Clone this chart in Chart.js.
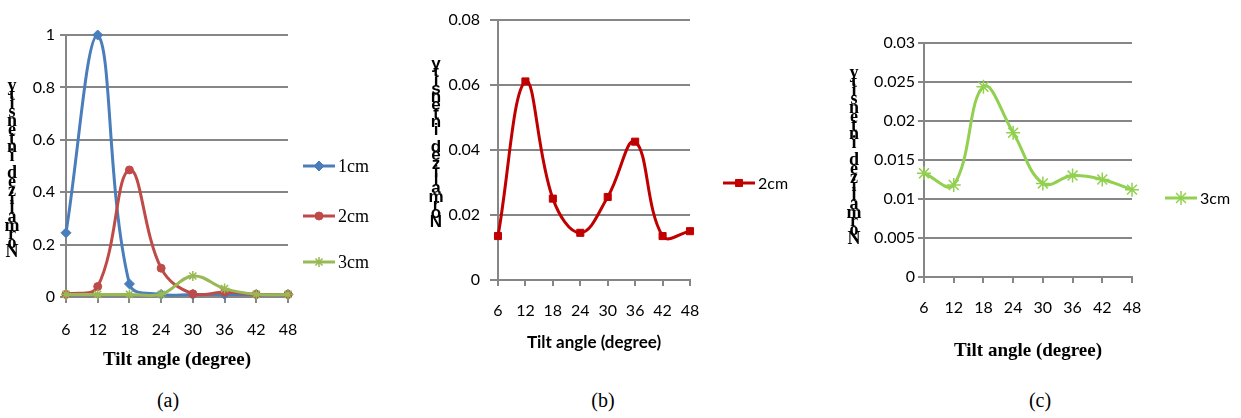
<!DOCTYPE html>
<html>
<head>
<meta charset="utf-8">
<script src="https://cdn.jsdelivr.net/npm/chart.js@4.4.1/dist/chart.umd.min.js"></script>
<style>
  body { margin: 0; background: #fff; width: 1241px; height: 418px; position: relative; overflow: hidden; }
  .panel { position: absolute; top: 0; height: 380px; }
  .cap { position: absolute; top: 389px; font: 20px "Liberation Serif", serif; transform: translateX(-50%); color: #000; }
</style>
</head>
<body>
<div class="panel" style="left:0;width:420px"><canvas id="ca"></canvas></div>
<div class="panel" style="left:420px;width:400px"><canvas id="cb"></canvas></div>
<div class="panel" style="left:830px;width:411px"><canvas id="cc"></canvas></div>
<div class="cap" style="left:168px">(a)</div>
<div class="cap" style="left:603px">(b)</div>
<div class="cap" style="left:1040px">(c)</div>
<script>
// tilt angles (degree)
const angles = ["6", "12", "18", "24", "30", "36", "42", "48"];

// (a) all three distances
const a1cm = [0.245, 1.0, 0.05, 0.01, 0.01, 0.01, 0.01, 0.01];
const a2cm = [0.01, 0.04, 0.485, 0.11, 0.012, 0.018, 0.01, 0.01];
const a3cm = [0.01, 0.01, 0.01, 0.01, 0.08, 0.032, 0.01, 0.01];

// (b) 2cm alone
const b2cm = [0.0135, 0.061, 0.025, 0.0145, 0.0255, 0.0425, 0.0135, 0.015];

// (c) 3cm alone
const c3cm = [0.0133, 0.0118, 0.0244, 0.0185, 0.012, 0.013, 0.0125, 0.0112];

const yTitle = "Normalized intensity";
const xTitle = "Tilt angle (degree)";

// stacked y title + excel style legend
const extras = {
  id: "extras",
  afterDraw(chart, args, opts) {
    const ctx = chart.ctx;
    ctx.save();
    ctx.fillStyle = "#000";
    ctx.textAlign = "center";
    ctx.textBaseline = "middle";
    ctx.font = opts.titleFont;
    [...yTitle].forEach((ch, i) => {
      ctx.fillText(ch, opts.titleX, opts.titleBottom - i * opts.titleStep);
    });

    ctx.textAlign = "left";
    ctx.font = opts.legendFont;
    chart.data.datasets.forEach((ds, i) => {
      const y = opts.legendY[i];
      const x = opts.legendX;
      ctx.strokeStyle = ds.borderColor;
      ctx.fillStyle = ds.borderColor;
      ctx.lineWidth = ds.borderWidth;
      ctx.beginPath();
      ctx.moveTo(x, y);
      ctx.lineTo(x + opts.legendLen, y);
      ctx.stroke();
      ctx.lineWidth = ds.pointBorderWidth;
      Chart.helpers.drawPoint(ctx, {
        pointStyle: ds.pointStyle,
        radius: ds.pointRadius,
        rotation: 0,
        borderWidth: ds.pointBorderWidth
      }, x + opts.legendLen / 2, y);
      ctx.fillStyle = "#000";
      ctx.fillText(ds.label, x + opts.legendLen + 3, y + 1);
    });
    ctx.restore();
  }
};

function series(label, data, color, style, radius, order) {
  return {
    label: label,
    data: data,
    order: order,
    borderColor: color,
    backgroundColor: color,
    borderWidth: 3,
    pointStyle: style,
    pointRadius: radius,
    pointHoverRadius: radius,
    pointBorderWidth: style === "star" ? 1.5 : 1,
    tension: 0.4,
    clip: false
  };
}

function panel(id, p) {
  const grey = "#868686";
  return new Chart(document.getElementById(id), {
    type: "line",
    data: { labels: angles, datasets: p.datasets },
    options: {
      responsive: true,
      maintainAspectRatio: false,
      animation: false,
      events: [],
      layout: { padding: { left: 0, top: p.top, right: p.right, bottom: 0 } },
      plugins: {
        legend: { display: false },
        tooltip: { enabled: false },
        extras: p.extras
      },
      scales: {
        x: {
          offset: false,
          afterFit: (s) => { s.height = 380 - p.bottom; },
          grid: { drawOnChartArea: false, color: grey, lineWidth: 2, tickLength: 6 },
          border: { color: grey, width: 2 },
          ticks: { color: "#000", font: { family: "Lato", size: 16 }, padding: p.xPad, maxRotation: 0, autoSkip: false },
          title: {
            display: true,
            text: xTitle,
            color: "#000",
            font: p.xTitleFont,
            padding: { top: 0, bottom: p.xTitlePad }
          }
        },
        y: {
          min: 0,
          max: p.yMax,
          afterFit: (s) => { s.width = p.left; },
          grid: { color: grey, lineWidth: 2, tickLength: p.yTick },
          border: { color: grey, width: 2 },
          ticks: {
            stepSize: p.yStep,
            color: "#000",
            font: { family: "Lato", size: 16 },
            padding: p.yPad,
            callback: (v) => String(+v.toFixed(4))
          }
        }
      }
    },
    plugins: [extras]
  });
}

panel("ca", {
  datasets: [
    series("1cm", a1cm, "#4A7EBB", "rectRot", 5, 2),
    series("2cm", a2cm, "#BE4B48", "circle", 4, 1),
    series("3cm", a3cm, "#98B954", "star", 5, 0)
  ],
  left: 66, top: 35, right: 132, bottom: 297,
  yMax: 1, yStep: 0.2, yTick: 6, yPad: 5, xPad: 17,
  xTitleFont: { family: "Liberation Serif", size: 19, weight: "bold" },
  xTitlePad: 9,
  extras: {
    titleFont: "bold 18px 'Liberation Serif'", titleX: 12, titleBottom: 252, titleStep: 8.7,
    legendFont: "18px 'Liberation Serif'", legendX: 303, legendLen: 32, legendY: [166, 216, 262]
  }
});

panel("cb", {
  datasets: [series("2cm", b2cm, "#C00000", "rect", 5, 0)],
  left: 78, top: 13, right: 130, bottom: 280,
  yMax: 0.08, yStep: 0.02, yTick: 8, yPad: 10, xPad: 15,
  xTitleFont: { family: "Lato", size: 17, weight: "bold" },
  xTitlePad: 27,
  extras: {
    titleFont: "bold 17px 'Liberation Sans Narrow', 'Liberation Sans'", titleX: 16, titleBottom: 222, titleStep: 8.3,
    legendFont: "16px Lato", legendX: 303, legendLen: 32, legendY: [183]
  }
});

panel("cc", {
  datasets: [series("3cm", c3cm, "#92D050", "star", 7, 0)],
  left: 94, top: 43, right: 109, bottom: 277,
  yMax: 0.03, yStep: 0.005, yTick: 6, yPad: 3, xPad: 15,
  xTitleFont: { family: "Liberation Serif", size: 19, weight: "bold" },
  xTitlePad: 18,
  extras: {
    titleFont: "bold 18px 'Liberation Serif'", titleX: 24, titleBottom: 239, titleStep: 8.7,
    legendFont: "16px Lato", legendX: 335, legendLen: 32, legendY: [198]
  }
});
</script>
</body>
</html>
